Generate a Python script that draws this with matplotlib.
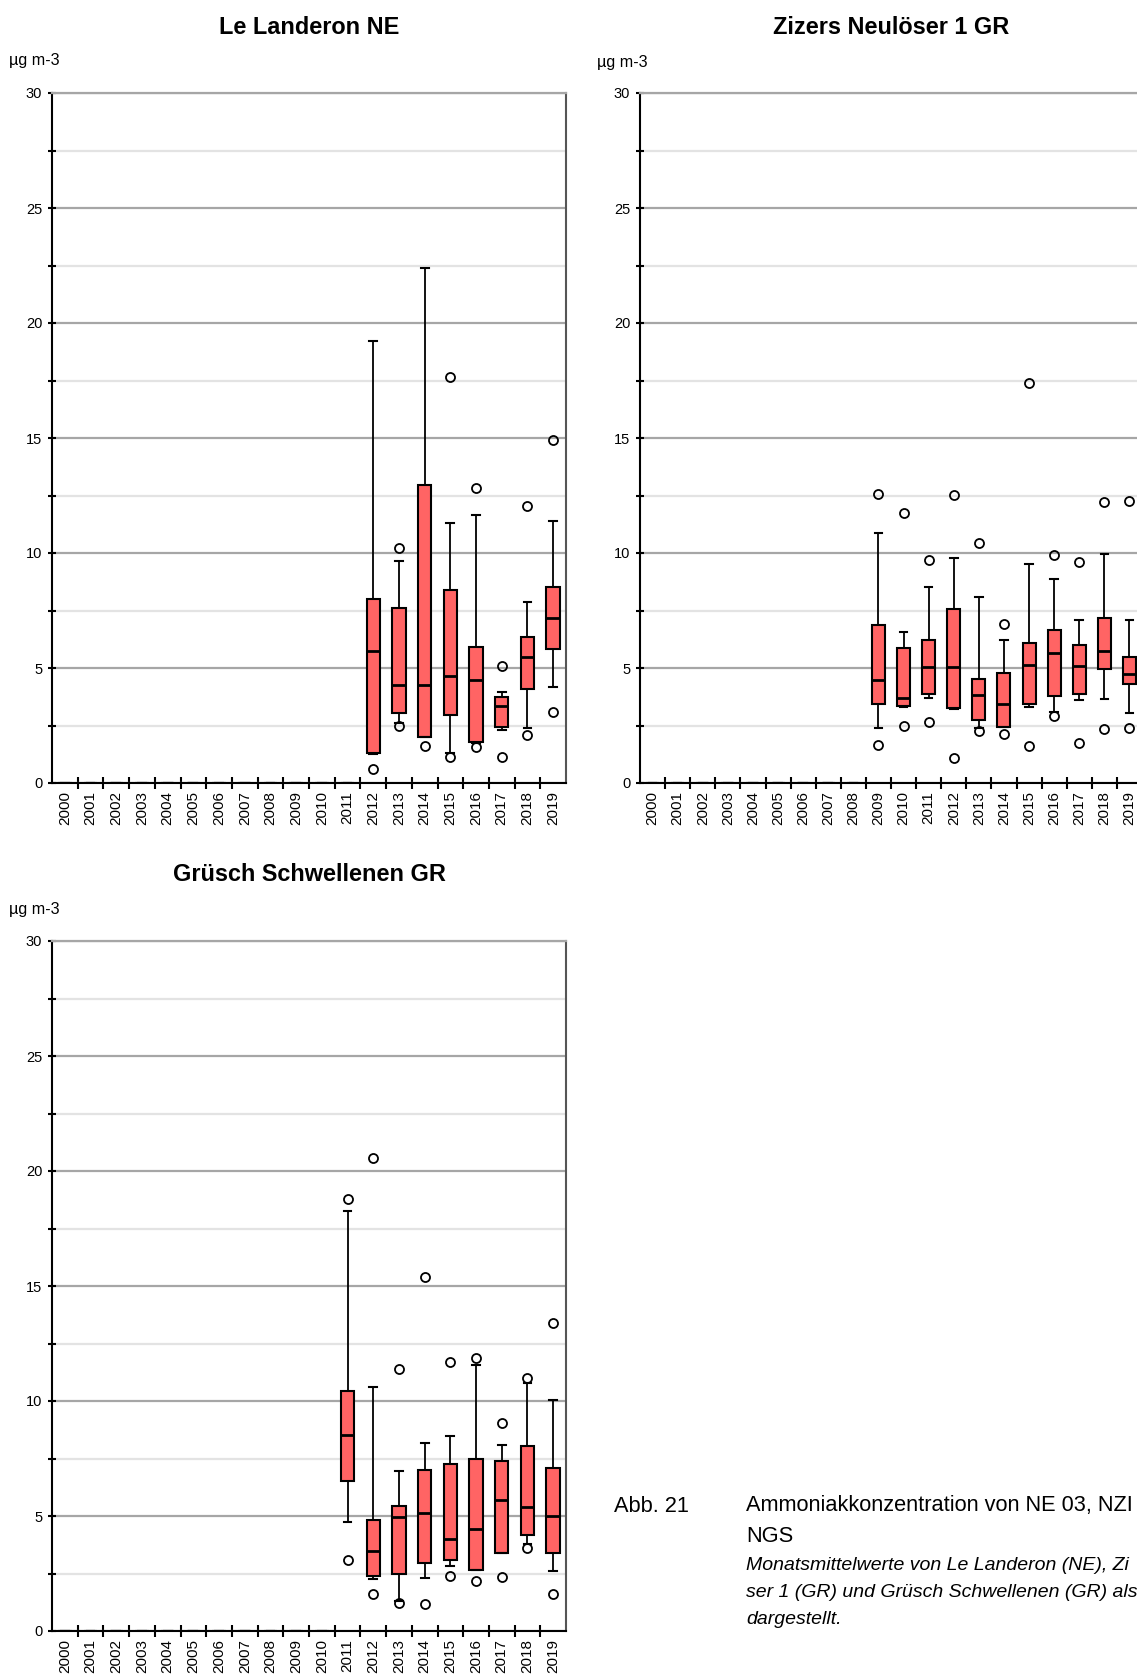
import matplotlib
matplotlib.use("Agg")
import matplotlib.pyplot as plt
from matplotlib import font_manager as fm
from matplotlib.ticker import MultipleLocator, FixedLocator

names = {f.name for f in fm.fontManager.ttflist}
BASE = "Liberation Sans" if "Liberation Sans" in names else "DejaVu Sans"
plt.rcParams["font.family"] = [BASE, "DejaVu Sans"]

years = list(range(2000, 2020))

# Le Landeron NE (2012-2019)
ll_start = 2012
ll_whislo = [1.25, 2.6, 2.0, 1.3, 1.75, 2.3, 2.38, 4.16]
ll_q1 = [1.29, 3.03, 2.01, 2.96, 1.8, 2.45, 4.09, 5.81]
ll_med = [5.72, 4.26, 4.26, 4.65, 4.48, 3.33, 5.46, 7.19]
ll_q3 = [8.0, 7.6, 12.94, 8.38, 5.93, 3.72, 6.36, 8.54]
ll_whishi = [19.2, 9.65, 22.4, 11.32, 11.65, 3.94, 7.87, 11.39]
ll_fliers = [[0.6], [10.2, 2.5], [1.6], [17.67, 1.14], [12.81, 1.55],
             [5.1, 1.14], [12.06, 2.1], [14.91, 3.07]]

# Zizers Neulöser 1 GR (2009-2019)
zz_start = 2009
zz_whislo = [2.41, 3.3, 3.68, 3.2, 2.38, 2.45, 3.32, 3.1, 3.61, 3.67, 3.03]
zz_q1 = [3.43, 3.35, 3.88, 3.27, 2.74, 2.45, 3.43, 3.8, 3.87, 4.94, 4.29]
zz_med = [4.48, 3.71, 5.03, 5.06, 3.83, 3.42, 5.13, 5.65, 5.1, 5.75, 4.74]
zz_q3 = [6.87, 5.86, 6.23, 7.58, 4.51, 4.8, 6.09, 6.65, 6.01, 7.16, 5.49]
zz_whishi = [10.87, 6.58, 8.52, 9.8, 8.1, 6.23, 9.51, 8.88, 7.09, 9.96, 7.09]
zz_fliers = [[12.55, 1.64], [11.75, 2.48], [9.7, 2.64], [12.52, 1.1], [10.45, 2.26],
             [6.93, 2.12], [17.4, 1.6], [9.9, 2.9], [9.61, 1.73], [12.22, 2.35], [12.26, 2.38]]

# Grüsch Schwellenen GR (2011-2019)
gr_start = 2011
gr_whislo = [4.76, 2.25, 1.3, 2.29, 2.83, 2.66, 3.39, 3.79, 2.59]
gr_q1 = [6.53, 2.38, 2.46, 2.96, 3.08, 2.66, 3.39, 4.16, 3.39]
gr_med = [8.54, 3.47, 4.97, 5.11, 4.0, 4.44, 5.68, 5.4, 5.0]
gr_q3 = [10.44, 4.81, 5.43, 7.01, 7.24, 7.47, 7.38, 8.03, 7.09]
gr_whishi = [18.25, 10.62, 6.97, 8.17, 8.46, 11.55, 8.09, 10.8, 10.04]
gr_fliers = [[18.8, 3.1], [20.57, 1.62], [11.39, 1.22], [15.37, 1.18], [11.68, 2.39],
             [11.85, 2.18], [9.04, 2.34], [11.0, 3.61], [13.37, 1.62]]

titles = ["Le Landeron NE", "Zizers Neulöser 1 GR", "Grüsch Schwellenen GR"]
unit = "µg m-3"
caption_num = "Abb. 21"
caption_title = ["Ammoniakkonzentration von NE 03, NZI", "NGS"]
caption_italic = ["Monatsmittelwerte von Le Landeron (NE), Zi",
                  "ser 1 (GR) und Grüsch Schwellenen (GR) als",
                  "dargestellt."]

BOX_COLOR = "#ff6464"
W, H = 1137, 1680
fig = plt.figure(figsize=(W / 100, H / 100), dpi=100)


def build_stats(start, whislo, q1, med, q3, whishi, fliers):
    stats = []
    for y in years:
        if y < start:
            stats.append(dict(whislo=0, q1=0, med=0, q3=0, whishi=0, fliers=[]))
        else:
            i = y - start
            stats.append(dict(whislo=whislo[i], q1=q1[i], med=med[i], q3=q3[i],
                              whishi=whishi[i], fliers=fliers[i]))
    return stats


def panel(rect, stats, title, unit_xy, title_y):
    ax = fig.add_axes(rect)
    ax.set_xlim(-0.5, len(years) - 0.5)
    ax.set_ylim(0, 30)
    ax.yaxis.set_major_locator(MultipleLocator(5))
    ax.yaxis.set_minor_locator(MultipleLocator(2.5))
    ax.grid(True, which="major", axis="y", color="#a6a6a6", lw=1.6, zorder=0)
    ax.grid(True, which="minor", axis="y", color="#e3e3e3", lw=1.6, zorder=0)
    ax.set_axisbelow(True)
    ax.bxp(stats, positions=list(range(len(years))), widths=0.52, capwidths=0.3,
           patch_artist=True, manage_ticks=False,
           boxprops=dict(facecolor=BOX_COLOR, edgecolor="black", lw=1.5),
           medianprops=dict(color="black", lw=2.0),
           whiskerprops=dict(color="black", lw=1.3),
           capprops=dict(color="black", lw=1.5),
           flierprops=dict(marker="o", markerfacecolor="none", markeredgecolor="black",
                           markersize=6.5, markeredgewidth=1.3))
    ax.set_xticks(list(range(len(years))))
    ax.set_xticklabels([str(y) for y in years], rotation=90, fontsize=11)
    ax.xaxis.set_minor_locator(FixedLocator([i + 0.5 for i in range(len(years) - 1)]))
    ax.tick_params(axis="x", which="major", length=0, pad=6)
    ax.tick_params(axis="x", which="minor", length=8, width=1.5, direction="inout")
    ax.tick_params(axis="y", which="both", length=6, width=1.5, direction="inout",
                   labelsize=10.5, pad=4)
    for s in ("left", "bottom"):
        ax.spines[s].set_color("black")
        ax.spines[s].set_linewidth(1.5)
    ax.spines["right"].set_color("#555555")
    ax.spines["right"].set_linewidth(1.5)
    ax.spines["top"].set_color("#a6a6a6")
    ax.spines["top"].set_linewidth(1.6)
    l, b, w, h = rect
    fig.text(l + w / 2, title_y, title, ha="center", va="center",
             fontsize=16.9, fontweight="bold")
    fig.text(unit_xy[0], unit_xy[1], unit, ha="left", va="center", fontsize=11.6)
    return ax


def fx(px):
    return px / W


def fy(py):
    return 1 - py / H


panel([fx(52), fy(783), fx(514), (783 - 93) / H],
      build_stats(ll_start, ll_whislo, ll_q1, ll_med, ll_q3, ll_whishi, ll_fliers),
      titles[0], (fx(9), fy(61)), fy(27))
panel([fx(640), fy(783), fx(502), (783 - 93) / H],
      build_stats(zz_start, zz_whislo, zz_q1, zz_med, zz_q3, zz_whishi, zz_fliers),
      titles[1], (fx(597), fy(62)), fy(27))
panel([fx(52), fy(1631), fx(514), (1631 - 941) / H],
      build_stats(gr_start, gr_whislo, gr_q1, gr_med, gr_q3, gr_whishi, gr_fliers),
      titles[2], (fx(9), fy(910)), fy(874))

fig.text(fx(614), fy(1506), caption_num, ha="left", va="center", fontsize=15.7)
fig.text(fx(746), fy(1506), caption_title[0], ha="left", va="center", fontsize=15.7)
fig.text(fx(746), fy(1537), caption_title[1], ha="left", va="center", fontsize=15.7)
for k, line in enumerate(caption_italic):
    fig.text(fx(746), fy(1566 + 26.7 * k), line, ha="left", va="center",
             fontsize=14, style="italic")

fig.savefig("out.png", dpi=100)
